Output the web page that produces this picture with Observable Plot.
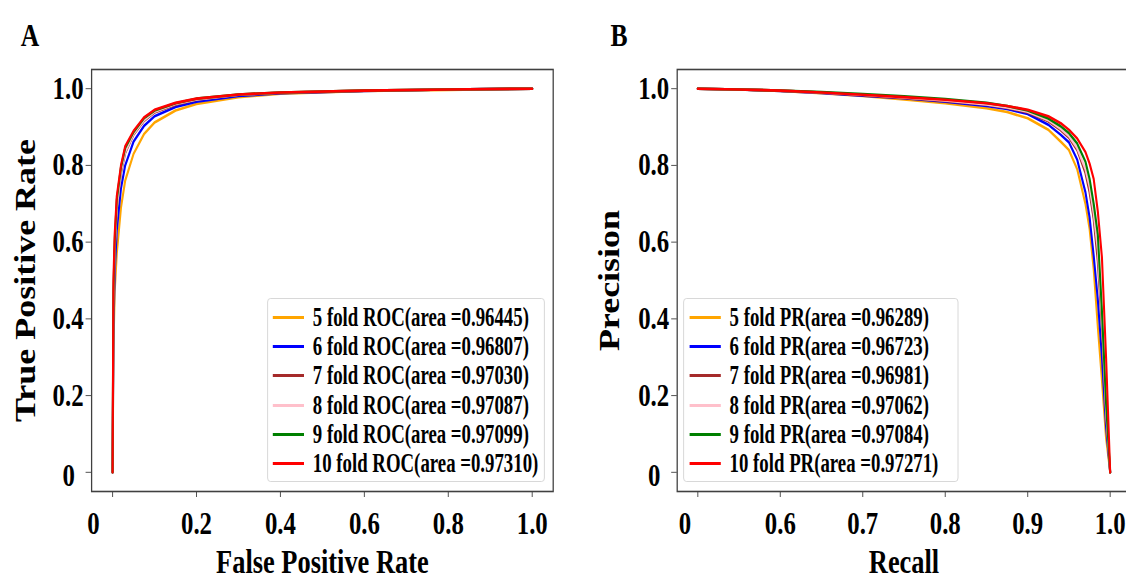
<!DOCTYPE html>
<html><head><meta charset="utf-8">
<script src="https://cdn.jsdelivr.net/npm/d3@7"></script>
<script src="https://cdn.jsdelivr.net/npm/@observablehq/plot@0.6"></script>
<style>
html,body{margin:0;padding:0;overflow:hidden;background:#fff;width:1126px;height:581px}
#root{position:absolute;left:0;top:0;width:1408px;height:581px;transform:scaleX(0.8);transform-origin:0 0;font-family:"Liberation Serif","Times New Roman",serif;font-weight:bold;color:#000}
.panel-label{position:absolute;font-size:32px;line-height:1}
.legend{position:absolute;background:rgba(255,255,255,0.85);border:1.3px solid #d4d4d4;border-radius:4px;box-sizing:border-box}
.row{position:absolute;left:0;height:29px;width:100%}
.row .sw{position:absolute;width:39px;height:3px;top:13px}
.row .tx{position:absolute;top:0;font-size:23.5px;line-height:29px;white-space:nowrap;transform:scaleY(1.15);transform-origin:0 50%}
svg{position:absolute;top:0}
</style></head><body><div id="root"></div>
<script>
// ---------- data ----------
const folds = ["5", "6", "7", "8", "9", "10"];
const foldColors = ["orange", "blue", "brown", "pink", "green", "red"];
const rocAreas = ["0.96445", "0.96807", "0.97030", "0.97087", "0.97099", "0.97310"];
const prAreas = ["0.96289", "0.96723", "0.96981", "0.97062", "0.97084", "0.97271"];

const rocTicks = [0, 0.2, 0.4, 0.6, 0.8, 1.0];
const rocTickLabels = ["0", "0.2", "0.4", "0.6", "0.8", "1.0"];
const yTicks = [0, 0.2, 0.4, 0.6, 0.8, 1.0];
const yTickLabels = ["0", "0.2", "0.4", "0.6", "0.8", "1.0"];
const prTicks = [0, 0.2, 0.4, 0.6, 0.8, 1.0];
const prTickLabels = ["0", "0.6", "0.7", "0.8", "0.9", "1.0"];

const rocFpr = [0, 0.002, 0.005, 0.01, 0.02, 0.03, 0.05, 0.075, 0.1, 0.15, 0.2, 0.3, 0.4, 0.6, 0.8, 1.0];
const rocTpr5  = [0, 0.32, 0.47, 0.57, 0.69, 0.76, 0.83, 0.882, 0.912, 0.943, 0.960, 0.978, 0.987, 0.994, 0.997, 1.0];
const rocTpr6  = [0, 0.36, 0.52, 0.63, 0.74, 0.80, 0.862, 0.903, 0.928, 0.952, 0.966, 0.981, 0.988, 0.994, 0.998, 1.0];
const rocTpr7  = [0, 0.43, 0.57, 0.685, 0.78, 0.832, 0.880, 0.916, 0.938, 0.958, 0.971, 0.984, 0.989, 0.995, 0.998, 1.0];
const rocTpr8  = [0, 0.44, 0.58, 0.69, 0.785, 0.835, 0.882, 0.918, 0.940, 0.960, 0.972, 0.984, 0.990, 0.995, 0.998, 1.0];
const rocTpr9  = [0, 0.47, 0.60, 0.71, 0.795, 0.845, 0.887, 0.923, 0.943, 0.962, 0.974, 0.985, 0.990, 0.995, 0.998, 1.0];
const rocTpr10 = [0, 0.50, 0.62, 0.72, 0.80, 0.85, 0.89, 0.925, 0.945, 0.963, 0.974, 0.985, 0.990, 0.995, 0.998, 1.0];

const prRecall = [0, 0.1, 0.2, 0.3, 0.4, 0.5, 0.6, 0.7, 0.75, 0.8, 0.85, 0.88, 0.9, 0.92, 0.94, 0.95, 0.96, 0.97, 0.98, 0.99, 1.0];
const prPrec5  = [1.0, 0.998, 0.994, 0.988, 0.981, 0.972, 0.962, 0.949, 0.939, 0.923, 0.893, 0.862, 0.84, 0.79, 0.70, 0.635, 0.53, 0.38, 0.24, 0.09, 0.0];
const prPrec6  = [1.0, 0.998, 0.994, 0.989, 0.982, 0.975, 0.966, 0.955, 0.947, 0.934, 0.906, 0.88, 0.86, 0.815, 0.73, 0.665, 0.565, 0.45, 0.30, 0.12, 0.0];
const prPrec7  = [1.0, 0.998, 0.995, 0.99, 0.983, 0.976, 0.968, 0.958, 0.95, 0.938, 0.915, 0.892, 0.872, 0.84, 0.78, 0.73, 0.66, 0.55, 0.38, 0.15, 0.0];
const prPrec8  = [1.0, 0.998, 0.995, 0.99, 0.984, 0.977, 0.969, 0.959, 0.951, 0.94, 0.918, 0.895, 0.876, 0.845, 0.79, 0.745, 0.675, 0.58, 0.40, 0.16, 0.0];
const prPrec9  = [1.0, 0.998, 0.995, 0.991, 0.986, 0.98, 0.973, 0.963, 0.955, 0.943, 0.922, 0.902, 0.884, 0.857, 0.81, 0.765, 0.70, 0.62, 0.42, 0.18, 0.0];
const prPrec10 = [1.0, 0.998, 0.995, 0.99, 0.984, 0.978, 0.971, 0.962, 0.955, 0.945, 0.928, 0.91, 0.893, 0.87, 0.835, 0.805, 0.765, 0.68, 0.56, 0.30, 0.0];

// ---------- tables ----------
const rocSeries = [rocTpr5, rocTpr6, rocTpr7, rocTpr8, rocTpr9, rocTpr10];
const prSeries = [prPrec5, prPrec6, prPrec7, prPrec8, prPrec9, prPrec10];
const rocRows = folds.flatMap((f, k) => rocFpr.map((x, i) => ({fold: f, x, y: rocSeries[k][i]})));
const prRows = folds.flatMap((f, k) => prRecall.map((x, i) => ({fold: f, x, y: prSeries[k][i]})));

const FONT = '"Liberation Serif", "Times New Roman", serif';
const root = document.getElementById("root");

function panel({rows, ticks, tickLabels, xTitle, yTitle, width, marginLeft, marginRight, yLabelOffset, zeroDx}) {
  const fmtX = d => tickLabels[ticks.indexOf(d)];
  const fmtY = d => yTickLabels[yTicks.indexOf(d)];
  const common = {fontFamily: FONT, fontWeight: "bold"};
  return Plot.plot({
    width, height: 581,
    marginLeft, marginRight, marginTop: 69, marginBottom: 90,
    x: {domain: [-0.05, 1.05]},
    y: {domain: [-0.05, 1.05]},
    color: {domain: folds, range: foldColors},
    style: {fontFamily: FONT, fontWeight: "bold", fontSize: "31px", color: "#000", background: "transparent", overflow: "visible"},
    marks: [
      Plot.axisX({...common, ticks, tickFormat: d => d === 0 ? "" : fmtX(d), tickSize: 6, tickPadding: 14, label: null, stroke: "#404040", fontSize: 31}),
      Plot.axisX({...common, ticks: [0], tickSize: 0, tickPadding: 20, tickFormat: fmtX, dx: zeroDx, label: null, fontSize: 31}),
      Plot.axisX({...common, ticks: [], label: xTitle, labelAnchor: "center", labelOffset: 81, labelArrow: "none", fontSize: 33}),
      Plot.axisY({...common, ticks: yTicks, tickFormat: d => d === 0 ? "" : fmtY(d), tickSize: 7, tickPadding: 3, label: null, stroke: "#404040", fontSize: 31}),
      Plot.axisY({...common, ticks: [0], tickSize: 0, tickPadding: 10, tickFormat: fmtY, dx: -11, dy: 4, label: null, fontSize: 31}),
      Plot.axisY({...common, ticks: [], label: yTitle, labelAnchor: "center", labelOffset: yLabelOffset, labelArrow: "none", fontSize: 36}),
      Plot.line(rows, {x: "x", y: "y", z: "fold", stroke: "fold", strokeWidth: 2.6}),
      Plot.frame({stroke: "#404040", strokeWidth: 1.6})
    ]
  });
}

const svgA = panel({rows: rocRows, ticks: rocTicks, tickLabels: rocTickLabels, xTitle: "False Positive Rate", yTitle: "True Positive Rate",
  width: 704, marginLeft: 114, marginRight: 13, yLabelOffset: 96, zeroDx: -24});
svgA.style.left = "0px";
root.appendChild(svgA);

const svgB = panel({rows: prRows, ticks: prTicks, tickLabels: prTickLabels, xTitle: "Recall", yTitle: "Precision",
  width: 723, marginLeft: 142, marginRight: 14, yLabelOffset: 98, zeroDx: -16});
svgB.style.left = "704px";
root.appendChild(svgB);

function label(txt, left) {
  const d = document.createElement("div");
  d.className = "panel-label";
  d.textContent = txt;
  d.style.left = left + "px";
  d.style.top = "19px";
  root.appendChild(d);
}
label("A", 26);
label("B", 763);

function legend(left, width, kind, areas, swLeft) {
  const box = document.createElement("div");
  box.className = "legend";
  box.style.left = left + "px";
  box.style.top = "298px";
  box.style.width = width + "px";
  box.style.height = "184px";
  folds.forEach((f, i) => {
    const r = document.createElement("div");
    r.className = "row";
    r.style.top = (4 + 29.2 * i) + "px";
    const sw = document.createElement("div");
    sw.className = "sw";
    sw.style.left = swLeft + "px";
    sw.style.background = foldColors[i];
    const tx = document.createElement("div");
    tx.className = "tx";
    tx.style.left = (swLeft + 50) + "px";
    tx.textContent = `${f} fold ${kind}(area =${areas[i]})`;
    r.appendChild(sw); r.appendChild(tx);
    box.appendChild(r);
  });
  root.appendChild(box);
}
legend(334, 347, "ROC", rocAreas, 6);
legend(854, 344, "PR", prAreas, 7);
</script></body></html>
